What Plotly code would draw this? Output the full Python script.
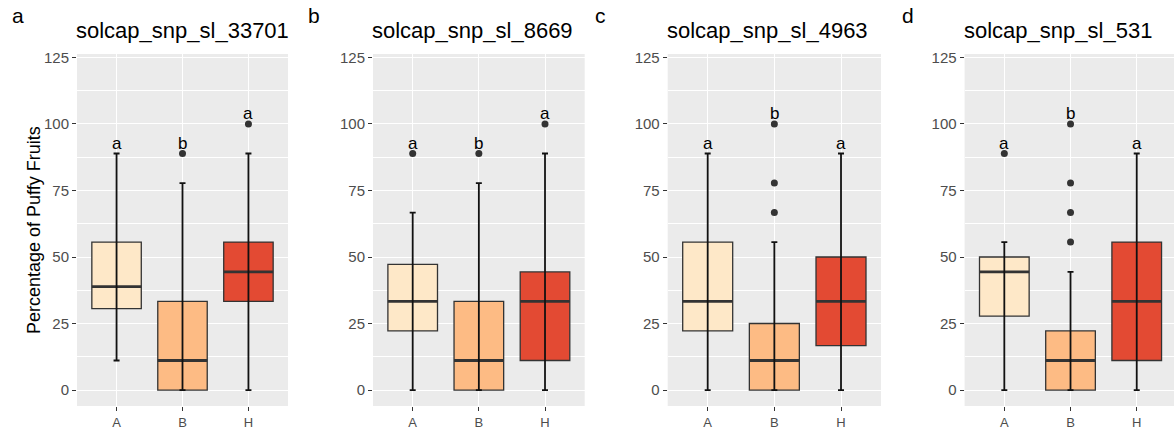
import plotly.graph_objects as go

W, H = 1174, 430

genotypes = ["A", "B", "H"]
fills = ["#FEE8C8", "#FDBB84", "#E34A33"]
panel_tags = ["a", "b", "c", "d"]
markers = ["solcap_snp_sl_33701", "solcap_snp_sl_8669", "solcap_snp_sl_4963", "solcap_snp_sl_531"]

# per panel, per genotype (A, B, H)
q1_vals = [[30.6, 0.0, 33.3], [22.2, 0.0, 11.1], [22.2, 0.0, 16.7], [27.8, 0.0, 11.1]]
median_vals = [[38.9, 11.1, 44.4], [33.3, 11.1, 33.3], [33.3, 11.1, 33.3], [44.4, 11.1, 33.3]]
q3_vals = [[55.6, 33.3, 55.6], [47.2, 33.3, 44.4], [55.6, 25.0, 50.0], [50.0, 22.2, 55.6]]
whisker_low = [[11.1, 0.0, 0.0], [0.0, 0.0, 0.0], [0.0, 0.0, 0.0], [0.0, 0.0, 0.0]]
whisker_high = [[88.9, 77.8, 88.9], [66.7, 77.8, 88.9], [88.9, 55.6, 88.9], [55.6, 44.4, 88.9]]
outliers = [
    [[], [88.9], [100.0]],
    [[88.9], [88.9], [100.0]],
    [[], [66.7, 77.8, 100.0], []],
    [[88.9], [55.6, 66.7, 77.8, 100.0], []],
]
letters = [["a", "b", "a"], ["a", "b", "a"], ["a", "b", "a"], ["a", "b", "a"]]

y_ticks = [0, 25, 50, 75, 100, 125]

# layout geometry (pixels)
panel_px = [(77, 288), (373, 584.7), (667.7, 881), (964.6, 1174)]
x_ranges = [[0.4, 3.6], [0.4, 3.6], [0.4, 3.6], [0.4, 3.563]]
panel_top, panel_bottom = 54, 406
y_range = [-6.0, 126.3]
box_w = 0.75
FONT = "Liberation Sans, Arial"

fig = go.Figure()
ydom = [(H - panel_bottom) / H, (H - panel_top) / H]
annotations = []

for p in range(4):
    sfx = "" if p == 0 else str(p + 1)
    xa, ya = "x" + sfx, "y" + sfx
    # boxes
    for g in range(3):
        fig.add_trace(go.Box(
            x=[g + 1], q1=[q1_vals[p][g]], median=[median_vals[p][g]], q3=[q3_vals[p][g]],
            lowerfence=[q1_vals[p][g]], upperfence=[q3_vals[p][g]],
            width=box_w, fillcolor=fills[g], line=dict(color="#333333", width=1.3),
            boxpoints=False, hoverinfo="skip", showlegend=False, xaxis=xa, yaxis=ya,
        ))
    # thick medians
    mx, my = [], []
    for g in range(3):
        mx += [g + 1 - box_w / 2, g + 1 + box_w / 2, None]
        my += [median_vals[p][g], median_vals[p][g], None]
    fig.add_trace(go.Scatter(x=mx, y=my, mode="lines", line=dict(color="#333333", width=2.8),
                             showlegend=False, hoverinfo="skip", xaxis=xa, yaxis=ya))
    # whiskers as error bars (drawn over the boxes)
    fig.add_trace(go.Scatter(
        x=[1, 2, 3], y=whisker_low[p], mode="markers",
        marker=dict(size=1, color="rgba(0,0,0,0)"),
        error_y=dict(type="data", symmetric=False,
                     array=[whisker_high[p][g] - whisker_low[p][g] for g in range(3)],
                     arrayminus=[0, 0, 0], width=3, thickness=1.8, color="#111111"),
        showlegend=False, hoverinfo="skip", xaxis=xa, yaxis=ya))
    # outliers
    ox, oy = [], []
    for g in range(3):
        for v in outliers[p][g]:
            ox.append(g + 1)
            oy.append(v)
    fig.add_trace(go.Scatter(x=ox, y=oy, mode="markers", marker=dict(size=7, color="#333333"),
                             showlegend=False, hoverinfo="skip", xaxis=xa, yaxis=ya))
    # significance letters
    for g in range(3):
        top = max([whisker_high[p][g]] + outliers[p][g])
        annotations.append(dict(x=g + 1, y=top, xref=xa, yref=ya, text=letters[p][g],
                                showarrow=False, yanchor="bottom", xanchor="center", yshift=-1,
                                font=dict(size=17, color="black", family=FONT)))

    x0, x1 = panel_px[p]
    xdom = [x0 / W, min(x1 / W, 1.0)]
    fig.update_layout(**{
        "xaxis" + sfx: dict(domain=xdom, range=x_ranges[p], tickvals=[1, 2, 3], ticktext=genotypes,
                            showgrid=True, gridcolor="white", gridwidth=1.2, zeroline=False,
                            ticks="outside", ticklen=4, tickcolor="#333333", tickwidth=1,
                            tickfont=dict(size=13, color="#4D4D4D", family=FONT), anchor=ya,
                            fixedrange=True, automargin=False),
        "yaxis" + sfx: dict(domain=ydom, range=y_range, tickvals=y_ticks,
                            showgrid=True, gridcolor="white", gridwidth=1.2, zeroline=False,
                            minor=dict(tick0=12.5, dtick=25, showgrid=True, gridcolor="white", gridwidth=0.6),
                            ticks="outside", ticklen=4, tickcolor="#333333", tickwidth=1,
                            tickfont=dict(size=15, color="#4D4D4D", family=FONT), anchor=xa,
                            fixedrange=True, automargin=False),
    })
    # panel title (left aligned to panel)
    annotations.append(dict(x=x0 / W, y=(H - 45) / H, xref="paper", yref="paper", text=markers[p],
                            showarrow=False, xanchor="left", yanchor="bottom", xshift=-3,
                            font=dict(size=22, color="black", family=FONT)))
    # panel tag letter
    tag_x = [10, 306, 593, 900][p]
    annotations.append(dict(x=tag_x / W, y=(H - 29) / H, xref="paper", yref="paper", text=panel_tags[p],
                            showarrow=False, xanchor="left", yanchor="bottom",
                            font=dict(size=21, color="black", family=FONT)))

annotations.append(dict(x=34 / W, y=(H - 230) / H, xref="paper", yref="paper",
                        text="Percentage of Puffy Fruits", textangle=-90, showarrow=False,
                        xanchor="center", yanchor="middle",
                        font=dict(size=18, color="black", family=FONT)))

fig.update_layout(
    width=W, height=H, margin=dict(l=0, r=0, t=0, b=0),
    paper_bgcolor="white", plot_bgcolor="#EBEBEB",
    font=dict(family=FONT, color="#4D4D4D"),
    annotations=annotations, showlegend=False,
)

fig.write_html("out.html")
